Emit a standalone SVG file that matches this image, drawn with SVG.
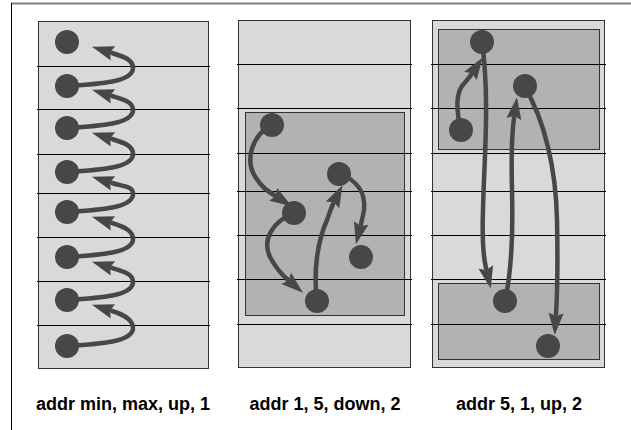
<svg xmlns="http://www.w3.org/2000/svg" width="631" height="430" viewBox="0 0 631 430">
  <style>
    .panel { fill: #d9d9d9; stroke: #333333; stroke-width: 1; }
    .block { fill: #b2b2b2; stroke: #333333; stroke-width: 1; }
    .row { stroke: #000000; stroke-width: 1; }
    .dot { fill: #474747; }
    .arrow { fill: none; stroke: #474747; stroke-width: 4.5; stroke-linecap: round; marker-end: url(#head); }
    .label { font-family: "Liberation Sans", Arial, sans-serif; font-weight: bold; font-size: 18px; fill: #000000; text-anchor: middle; }
  </style>
  <defs>
    <marker id="head" markerUnits="userSpaceOnUse" markerWidth="26" markerHeight="18" refX="1" refY="0" viewBox="0 -9 26 18" orient="auto" overflow="visible">
      <path d="M0,-7.5 L22,0 L0,7.5 L3,0 z" fill="#474747"/>
    </marker>
  </defs>

  <!-- page frame -->
  <line x1="11" y1="3.5" x2="631" y2="3.5" stroke="#808080" stroke-width="2"/>
  <line x1="11.5" y1="3" x2="11.5" y2="430" stroke="#000000" stroke-width="1"/>

  <!-- panel: addr min, max, up, 1 -->
  <g id="panel-min-max">
    <rect class="panel" x="38.5" y="21.5" width="170" height="347"/>
    <g class="row">
      <line x1="37" y1="66.5" x2="210" y2="66.5"/>
      <line x1="37" y1="109.5" x2="210" y2="109.5"/>
      <line x1="37" y1="154.5" x2="210" y2="154.5"/>
      <line x1="37" y1="193.5" x2="210" y2="193.5"/>
      <line x1="37" y1="237.5" x2="210" y2="237.5"/>
      <line x1="37" y1="281.5" x2="210" y2="281.5"/>
      <line x1="37" y1="325.5" x2="210" y2="325.5"/>
    </g>
  </g>

  <!-- panel: addr 1, 5, down, 2 -->
  <g id="panel-down">
    <rect class="panel" x="238.5" y="20.5" width="172" height="347"/>
    <rect class="block" x="245.5" y="112.5" width="159" height="203"/>
    <g class="row">
      <line x1="237" y1="64.5" x2="412" y2="64.5"/>
      <line x1="237" y1="108.5" x2="412" y2="108.5"/>
      <line x1="237" y1="153.5" x2="412" y2="153.5"/>
      <line x1="237" y1="191.5" x2="412" y2="191.5"/>
      <line x1="237" y1="235.5" x2="412" y2="235.5"/>
      <line x1="237" y1="279.5" x2="412" y2="279.5"/>
      <line x1="237" y1="324.5" x2="412" y2="324.5"/>
    </g>
  </g>

  <!-- panel: addr 5, 1, up, 2 -->
  <g id="panel-up">
    <rect class="panel" x="432.5" y="20.5" width="172" height="347"/>
    <rect class="block" x="438.5" y="29.5" width="161" height="120"/>
    <rect class="block" x="438.5" y="283.5" width="161" height="76"/>
    <g class="row">
      <line x1="431" y1="64.5" x2="606" y2="64.5"/>
      <line x1="431" y1="108.5" x2="606" y2="108.5"/>
      <line x1="431" y1="153.5" x2="606" y2="153.5"/>
      <line x1="431" y1="191.5" x2="606" y2="191.5"/>
      <line x1="431" y1="235.5" x2="606" y2="235.5"/>
      <line x1="431" y1="279.5" x2="606" y2="279.5"/>
      <line x1="431" y1="324.5" x2="606" y2="324.5"/>
    </g>
  </g>

  <!-- connectors -->
  <g id="connectors">
    <!-- min..max, up, step 1 -->
    <path class="arrow" d="M67,86 C100,84 133,82 133,68 C133,60 125,57 112,53"/>
    <path class="arrow" d="M67,128 C100,126 133,124 133,110 C133,102 125,100 112,96"/>
    <path class="arrow" d="M67,172 C100,170 133,168 133,154 C133,146 125,143 112,139"/>
    <path class="arrow" d="M67,212 C100,210 133,208 133,194 C133,186 125,187 112,183"/>
    <path class="arrow" d="M67,257 C100,255 133,253 133,239 C133,231 125,227 112,223"/>
    <path class="arrow" d="M67,300 C100,298 133,296 133,282 C133,274 125,272 112,268"/>
    <path class="arrow" d="M67,346 C100,344 133,342 133,328 C133,320 125,315 112,311"/>

    <!-- 1..5, down, step 2 -->
    <path class="arrow" d="M272,125 C252,135 244,160 256,178 C262,187 266,190 274,195"/>
    <path class="arrow" d="M294,213 C272,222 262,240 270,257 C276,268 280,273 287,279"/>
    <path class="arrow" d="M317,301 C313,270 318,240 327,220 C330,212 331,208 333,204"/>
    <path class="arrow" d="M340,174 C356,180 366,192 364,210 C363,216 362,220 361,224"/>

    <!-- 5..1, up, step 2 -->
    <path class="arrow" d="M461,130 C456,110 456,95 462,86 C466,81 469,78 471,75"/>
    <path class="arrow" d="M482,42 C490,100 484,160 483,210 C482,238 483,255 486,268"/>
    <path class="arrow" d="M505,301 C512,270 513,230 512,190 C511,150 512,132 514,118"/>
    <path class="arrow" d="M524,86 C545,120 556,170 557,220 C558,270 557,298 556,314"/>
  </g>

  <!-- address dots -->
  <g id="dots" class="dot">
    <circle cx="67" cy="42" r="12"/>
    <circle cx="67" cy="86" r="12"/>
    <circle cx="67" cy="128" r="12"/>
    <circle cx="67" cy="172" r="12"/>
    <circle cx="67" cy="212" r="12"/>
    <circle cx="67" cy="257" r="12"/>
    <circle cx="67" cy="300" r="12"/>
    <circle cx="67" cy="346" r="12"/>

    <circle cx="272" cy="125" r="12"/>
    <circle cx="339" cy="174" r="12"/>
    <circle cx="294" cy="213" r="12"/>
    <circle cx="361" cy="257" r="12"/>
    <circle cx="317" cy="301" r="12"/>

    <circle cx="482" cy="42" r="12"/>
    <circle cx="461" cy="130" r="12"/>
    <circle cx="525" cy="86" r="12"/>
    <circle cx="505" cy="301" r="12"/>
    <circle cx="548" cy="346" r="12"/>
  </g>

  <!-- captions -->
  <g id="captions" class="label">
    <text x="123" y="410">addr min, max, up, 1</text>
    <text x="325" y="410">addr 1, 5, down, 2</text>
    <text x="519" y="410">addr 5, 1, up, 2</text>
  </g>
</svg>
